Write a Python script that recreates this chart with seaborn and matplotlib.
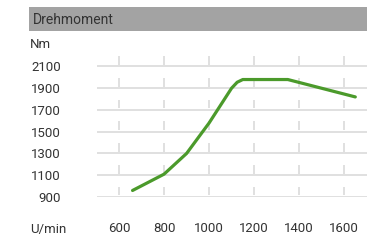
import matplotlib
matplotlib.use("Agg")
import matplotlib.pyplot as plt
import seaborn as sns
import pandas as pd
from matplotlib.patches import Rectangle

# data
rpm = [660, 800, 900, 1000, 1100, 1125, 1150, 1350, 1650]
torque = [960, 1110, 1300, 1580, 1900, 1955, 1980, 1980, 1820]
x_ticks = [600, 800, 1000, 1200, 1400, 1600]
y_ticks = [900, 1100, 1300, 1500, 1700, 1900, 2100]
title = "Drehmoment"
y_unit = "Nm"
x_unit = "U/min"

sns.set_theme(style="white")
plt.rcParams['font.family'] = ['Roboto', 'DejaVu Sans']

W, H = 367, 240
fig = plt.figure(figsize=(W / 100, H / 100), dpi=100)
ax = fig.add_axes([97 / W, 1 - 197 / H, (W - 97) / W, (197 - 55.6) / H])

df = pd.DataFrame({"rpm": rpm, "torque": torque})
grid_c = "#dddddd"
ax.set_xlim(502, 1702)
ax.set_ylim(900, 2200)
for t in y_ticks:
    ax.axhline(t, color=grid_c, lw=1.3, zorder=0)
    ax.vlines(x_ticks, t + 15, t + 95, color=grid_c, lw=1.3, zorder=0)

sns.lineplot(data=df, x="rpm", y="torque", ax=ax, color="#4b9a2b",
             lw=2.3, sort=False, estimator=None, zorder=3)

ax.set_xticks(x_ticks)
ax.set_yticks(y_ticks)
ax.set_xlabel("")
ax.set_ylabel("")
for s in ax.spines.values():
    s.set_visible(False)
ax.tick_params(axis="both", length=0, labelsize=9.5, colors="#333333")
ax.tick_params(axis="y", pad=26)
ax.tick_params(axis="x", pad=18)
ax.set_clip_on(False)

fig.patches.append(Rectangle((29 / W, 1 - 31 / H), (W - 29) / W, 24 / H,
                             transform=fig.transFigure, facecolor="#a3a3a3",
                             edgecolor="none", zorder=0))
fig.text(33 / W, 1 - 19.5 / H, title, ha="left", va="center", fontsize=10,
         color="#333333")
fig.text(30 / W, 1 - 45 / H, y_unit, ha="left", va="center", fontsize=9.5,
         color="#333333")
fig.text(30 / W, 1 - 229 / H, x_unit, ha="left", va="center", fontsize=9.5,
         color="#333333")

fig.savefig("out.png", dpi=100)
